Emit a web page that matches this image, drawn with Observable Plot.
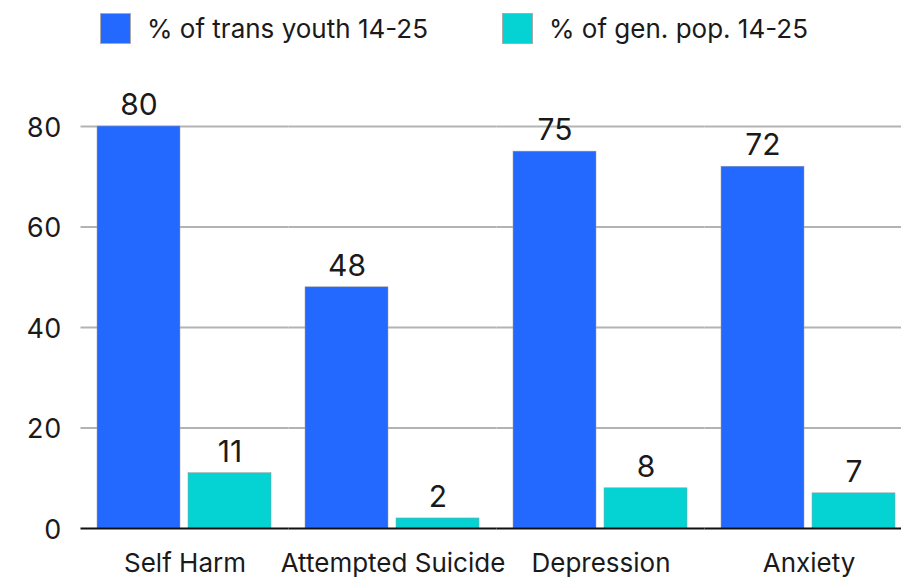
<!DOCTYPE html>
<html>
<head>
<meta charset="utf-8">
<script src="https://cdn.jsdelivr.net/npm/d3@7"></script>
<script src="https://cdn.jsdelivr.net/npm/@observablehq/plot@0.6"></script>
<style>
  html, body { margin: 0; padding: 0; background: #fff; }
  body { width: 901px; height: 577px; overflow: hidden; font-family: Inter, "Noto Sans", sans-serif; color: #1a1a1a; }
  #legend { height: 60px; position: relative; }
  .item { position: absolute; top: 13px; display: flex; align-items: center; font-size: 26px; line-height: 30px; }
  .swatch { width: 29px; height: 29px; border: 0.5px solid #aaa; margin-right: 16px; }
</style>
</head>
<body>
<div id="legend"></div>
<div id="chart"></div>
<script>
// Categories and the two series of percentages
const categories = ["Self Harm", "Attempted Suicide", "Depression", "Anxiety"];
const transYouth = [80, 48, 75, 72];
const genPop = [11, 2, 8, 7];
const seriesNames = ["% of trans youth 14-25", "% of gen. pop. 14-25"];
const seriesColors = ["#2469FF", "#05D3D3"];
const yTicks = [0, 20, 40, 60, 80];

// Long table: one row per category × series
const rows = categories.flatMap((c, i) => [
  {category: c, series: seriesNames[0], value: transYouth[i]},
  {category: c, series: seriesNames[1], value: genPop[i]}
]);

// Legend above the chart
const legend = document.getElementById("legend");
const legendX = [100, 502];
seriesNames.forEach((name, i) => {
  const item = document.createElement("div");
  item.className = "item";
  item.style.left = legendX[i] + "px";
  const sw = document.createElement("div");
  sw.className = "swatch";
  sw.style.background = seriesColors[i];
  const label = document.createElement("span");
  label.textContent = name;
  item.append(sw, label);
  legend.append(item);
});

// Half of the gap between category groups, so horizontal rules run unbroken
const halfGap = 16.5;

const chart = Plot.plot({
  width: 901,
  height: 517,
  marginLeft: 80,
  marginRight: -11,
  marginTop: 66,
  marginBottom: 49,
  style: {fontFamily: "Inter, 'Noto Sans', sans-serif", fontSize: "26px", color: "#1a1a1a", background: "#fff"},
  fx: {domain: categories, paddingInner: 0.159, paddingOuter: 0.0795, label: null},
  x: {domain: seriesNames, paddingInner: 0.087, paddingOuter: 0, axis: null},
  y: {domain: [0, 80], axis: null},
  color: {domain: seriesNames, range: seriesColors},
  marks: [
    Plot.ruleY(yTicks.filter(d => d > 0), {stroke: "#b3b3b3", strokeWidth: 2, insetLeft: -halfGap, insetRight: -halfGap}),
    Plot.barY(rows, {fx: "category", x: "series", y: "value", fill: "series", stroke: "#9a9a9a", strokeWidth: 0.5}),
    Plot.text(rows, {fx: "category", x: "series", y: "value", text: d => String(d.value), lineAnchor: "bottom", dy: -11.5, fontSize: 30, fill: "#1a1a1a"}),
    Plot.ruleY([0], {stroke: "#111", strokeWidth: 2, insetLeft: -halfGap, insetRight: -halfGap}),
    Plot.axisY({ticks: yTicks, tickSize: 0, tickPadding: 36, fontSize: 27, dy: 1.5, label: null}),
    Plot.axisFx({anchor: "bottom", tickSize: 0, tickPadding: 25, fontSize: 26, label: null})
  ]
});
document.getElementById("chart").append(chart);
</script>
</body>
</html>
